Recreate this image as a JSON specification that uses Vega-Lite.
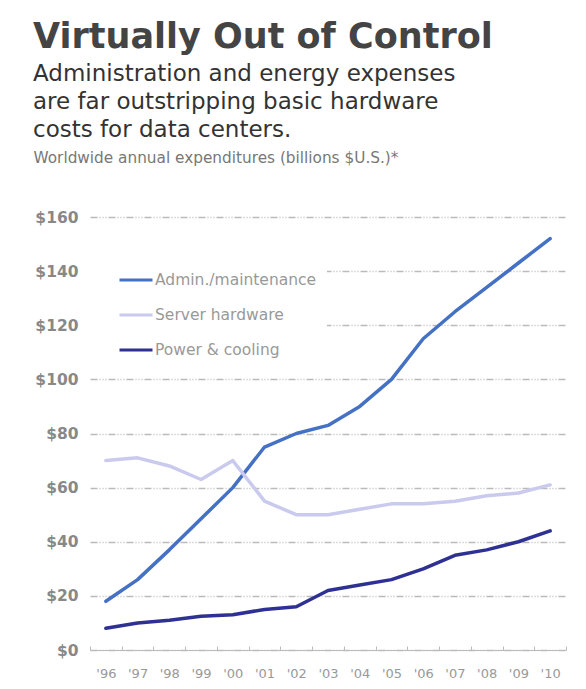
{
  "$schema": "https://vega.github.io/schema/vega-lite/v6.json",
  "width": 476,
  "height": 433,
  "padding": {"left": 33, "top": 20, "right": 18, "bottom": 6},
  "background": "white",
  "title": {
    "text": "Virtually Out of Control",
    "subtitle": ["Administration and energy expenses", "are far outstripping basic hardware", "costs for data centers."],
    "anchor": "start",
    "frame": "bounds",
    "font": "DejaVu Sans",
    "fontSize": 35,
    "fontWeight": "bold",
    "color": "#444444",
    "subtitleFont": "DejaVu Sans",
    "subtitleFontSize": 23,
    "subtitleColor": "#333333",
    "subtitleLineHeight": 28,
    "subtitlePadding": 8,
    "offset": 8
  },
  "data": {
    "values": [
      {"year": "'96", "series": "Admin./maintenance", "value": 18},
      {"year": "'97", "series": "Admin./maintenance", "value": 26},
      {"year": "'98", "series": "Admin./maintenance", "value": 37},
      {"year": "'99", "series": "Admin./maintenance", "value": 48.5},
      {"year": "'00", "series": "Admin./maintenance", "value": 60},
      {"year": "'01", "series": "Admin./maintenance", "value": 75},
      {"year": "'02", "series": "Admin./maintenance", "value": 80},
      {"year": "'03", "series": "Admin./maintenance", "value": 83},
      {"year": "'04", "series": "Admin./maintenance", "value": 90},
      {"year": "'05", "series": "Admin./maintenance", "value": 100},
      {"year": "'06", "series": "Admin./maintenance", "value": 115},
      {"year": "'07", "series": "Admin./maintenance", "value": 125},
      {"year": "'08", "series": "Admin./maintenance", "value": 134},
      {"year": "'09", "series": "Admin./maintenance", "value": 143},
      {"year": "'10", "series": "Admin./maintenance", "value": 152},
      {"year": "'96", "series": "Server hardware", "value": 70},
      {"year": "'97", "series": "Server hardware", "value": 71},
      {"year": "'98", "series": "Server hardware", "value": 68},
      {"year": "'99", "series": "Server hardware", "value": 63},
      {"year": "'00", "series": "Server hardware", "value": 70},
      {"year": "'01", "series": "Server hardware", "value": 55},
      {"year": "'02", "series": "Server hardware", "value": 50},
      {"year": "'03", "series": "Server hardware", "value": 50},
      {"year": "'04", "series": "Server hardware", "value": 52},
      {"year": "'05", "series": "Server hardware", "value": 54},
      {"year": "'06", "series": "Server hardware", "value": 54},
      {"year": "'07", "series": "Server hardware", "value": 55},
      {"year": "'08", "series": "Server hardware", "value": 57},
      {"year": "'09", "series": "Server hardware", "value": 58},
      {"year": "'10", "series": "Server hardware", "value": 61},
      {"year": "'96", "series": "Power & cooling", "value": 8},
      {"year": "'97", "series": "Power & cooling", "value": 10},
      {"year": "'98", "series": "Power & cooling", "value": 11},
      {"year": "'99", "series": "Power & cooling", "value": 12.5},
      {"year": "'00", "series": "Power & cooling", "value": 13},
      {"year": "'01", "series": "Power & cooling", "value": 15},
      {"year": "'02", "series": "Power & cooling", "value": 16},
      {"year": "'03", "series": "Power & cooling", "value": 22},
      {"year": "'04", "series": "Power & cooling", "value": 24},
      {"year": "'05", "series": "Power & cooling", "value": 26},
      {"year": "'06", "series": "Power & cooling", "value": 30},
      {"year": "'07", "series": "Power & cooling", "value": 35},
      {"year": "'08", "series": "Power & cooling", "value": 37},
      {"year": "'09", "series": "Power & cooling", "value": 40},
      {"year": "'10", "series": "Power & cooling", "value": 44}
    ]
  },
  "mark": {"type": "line", "strokeWidth": 3.5, "strokeJoin": "round", "strokeCap": "round"},
  "encoding": {
    "x": {
      "field": "year",
      "type": "ordinal",
      "sort": null,
      "bandPosition": 0.5,
      "scale": {"type": "band", "paddingInner": 0, "paddingOuter": 0},
      "axis": {
        "title": null,
        "labelAngle": 0,
        "tickBand": "extent",
        "tickSize": -4,
        "tickColor": "#bbbbbb",
        "domainColor": "#bbbbbb",
        "labelFont": "DejaVu Sans",
        "labelFontSize": 13,
        "labelColor": "#999999",
        "labelPadding": 21,
        "grid": false
      }
    },
    "y": {
      "field": "value",
      "type": "quantitative",
      "scale": {"domain": [0, 160]},
      "axis": {
        "values": [0, 20, 40, 60, 80, 100, 120, 140, 160],
        "labelExpr": "'$' + datum.value",
        "labelFont": "DejaVu Sans",
        "labelFontSize": 15.5,
        "labelFontWeight": "bold",
        "labelColor": "#888888",
        "labelPadding": 12,
        "ticks": false,
        "domain": false,
        "grid": true,
        "gridColor": "#bbbbbb",
        "gridWidth": 1.5,
        "gridDash": [7, 2, 1, 2, 1, 2, 1, 2],
        "title": "Worldwide annual expenditures (billions $U.S.)*",
        "titleAngle": 0,
        "titleAlign": "left",
        "titleBaseline": "middle",
        "titleX": -57,
        "titleY": -60,
        "titleFont": "DejaVu Sans",
        "titleFontSize": 15.3,
        "titleFontWeight": "normal",
        "titleColor": "#777777"
      }
    },
    "color": {
      "field": "series",
      "type": "nominal",
      "scale": {
        "domain": ["Admin./maintenance", "Server hardware", "Power & cooling"],
        "range": ["#4571c4", "#cacaee", "#2e3193"]
      },
      "legend": {
        "title": null,
        "orient": "none",
        "legendX": 0,
        "legendY": 35,
        "fillColor": "white",
        "padding": 10,
        "symbolOffset": 18,
        "symbolType": "stroke",
        "symbolSize": 1089,
        "symbolStrokeWidth": 3,
        "labelOffset": 1,
        "rowPadding": 8,
        "labelLimit": 500,
        "labelFont": "DejaVu Sans",
        "labelFontSize": 15.5,
        "labelColor": "#999999"
      }
    }
  },
  "config": {"view": {"stroke": null}}
}
